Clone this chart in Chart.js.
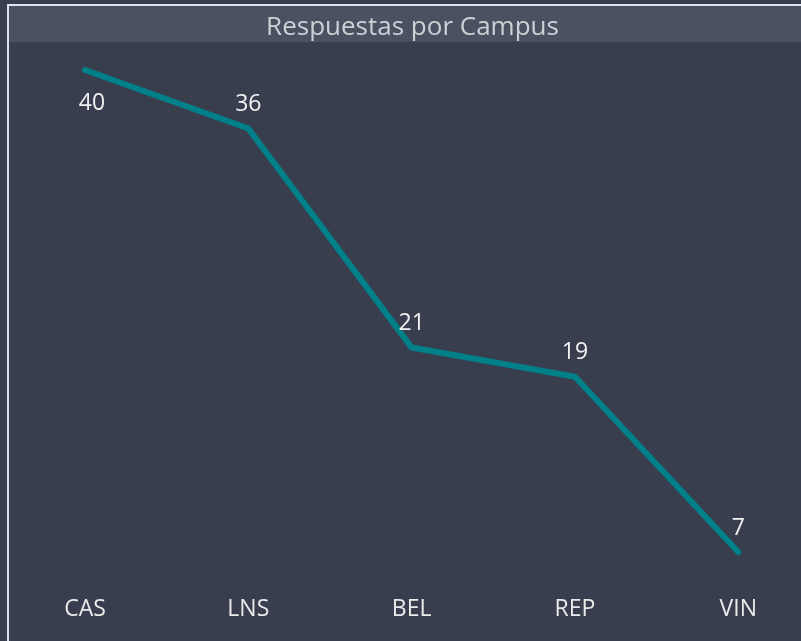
<!DOCTYPE html>
<html>
<head>
<meta charset="utf-8">
<script src="https://cdn.jsdelivr.net/npm/chart.js@4"></script>
<style>
  html, body { margin: 0; padding: 0; background: #383e4e; }
  #wrap { width: 801px; height: 641px; }
  canvas { display: block; }
</style>
</head>
<body>
<div id="wrap"><canvas id="Chart1" width="801" height="641"></canvas></div>
<script>
const campus = ['CAS', 'LNS', 'BEL', 'REP', 'VIN']
const respuestas = [40, 36, 21, 19, 7]
const titulo = 'Respuestas por Campus'

const fontFamily = '"Open Sans", "Noto Sans", sans-serif'

// fondo, borde y banda del titulo
const framePlugin = {
  id: 'frame',
  beforeDraw: (chart) => {
    const { ctx, width, height } = chart
    ctx.save()
    ctx.fillStyle = '#383e4e'
    ctx.fillRect(0, 0, width, height)
    ctx.fillStyle = '#4a5161'
    ctx.fillRect(9, 6, width - 9, 36)
    ctx.strokeStyle = '#dce3ee'
    ctx.lineWidth = 2
    ctx.beginPath()
    ctx.moveTo(8, height + 2)
    ctx.lineTo(8, 5)
    ctx.lineTo(width + 2, 5)
    ctx.stroke()
    ctx.restore()
  }
}

// etiquetas de valor sobre cada punto
const valueLabels = {
  id: 'valueLabels',
  afterDatasetsDraw: (chart) => {
    const { ctx, chartArea } = chart
    const meta = chart.getDatasetMeta(0)
    ctx.save()
    ctx.font = `23px ${fontFamily}`
    ctx.fillStyle = '#f2f2f2'
    ctx.textAlign = 'center'
    ctx.textBaseline = 'middle'
    meta.data.forEach((pt, i) => {
      let x = pt.x
      let y = pt.y - 24
      if (y < chartArea.top) {
        x = pt.x + 7
        y = pt.y + 33
      }
      ctx.fillText(String(respuestas[i]), x, y)
    })
    ctx.restore()
  }
}

const ctx1 = document.getElementById('Chart1')
new Chart(ctx1, {
  type: 'line',
  data: {
    labels: campus,
    datasets: [{
      label: titulo,
      data: respuestas,
      borderColor: '#008189',
      borderWidth: 6,
      borderCapStyle: 'round',
      borderJoinStyle: 'miter',
      pointRadius: 0,
      fill: false,
      tension: 0,
      clip: false
    }]
  },
  options: {
    responsive: false,
    animation: false,
    layout: {
      autoPadding: false,
      padding: { left: 85, right: 61, top: 0, bottom: 0 }
    },
    plugins: {
      legend: { display: false },
      tooltip: { enabled: false },
      title: {
        display: true,
        text: titulo,
        color: '#cdd0d6',
        font: { family: fontFamily, size: 26, weight: 'normal', lineHeight: 1.2 },
        padding: { top: 12.4, bottom: 26.4 }
      }
    },
    scales: {
      x: {
        offset: false,
        grid: { display: false, drawTicks: false },
        border: { display: false },
        afterFit: (scale) => { scale.height = 89 },
        ticks: {
          color: '#eaeaea',
          padding: 44,
          maxRotation: 0,
          font: { family: fontFamily, size: 23, lineHeight: 1.2 }
        }
      },
      y: {
        display: false,
        min: 7,
        max: 40
      }
    }
  },
  plugins: [framePlugin, valueLabels]
})
</script>
</body>
</html>
